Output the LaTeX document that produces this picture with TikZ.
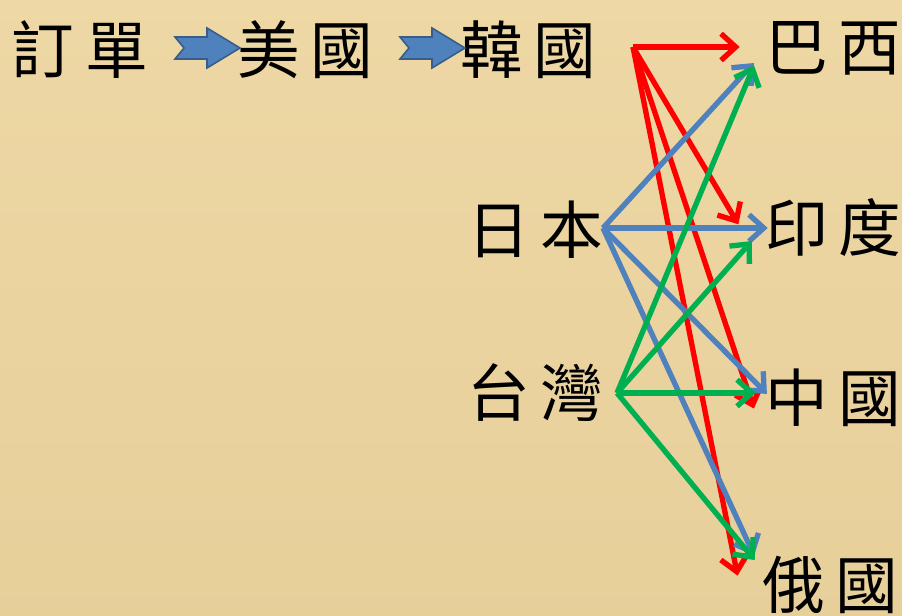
\documentclass[tikz,border=0pt]{standalone}
\usepackage{fontspec}
\newfontfamily\cjk{Noto Sans CJK TC}
\usetikzlibrary{arrows.meta}
\definecolor{papyrus}{RGB}{238,216,165}
\definecolor{papyrusdark}{RGB}{226,200,145}
\definecolor{rd}{RGB}{255,0,0}
\definecolor{bl}{RGB}{79,129,189}
\definecolor{gr}{RGB}{0,176,80}
\definecolor{blockfill}{RGB}{79,129,189}
\definecolor{blockline}{RGB}{56,93,138}
\newcommand{\tch}[2]{#1\hspace{8pt}#2}
\tikzset{
  word/.style={font=\cjk\fontsize{47}{50}\selectfont, text=black, inner sep=0pt},
  link/.style={line width=4pt, -{Straight Barb[length=11pt,width=20pt,line width=4pt]}, shorten >=-2pt},
  redlink/.style={link, draw=rd},
  bluelink/.style={link, draw=bl},
  greenlink/.style={link, draw=gr},
  blockarrow/.style={fill=blockfill, draw=blockline, line width=1.2pt, line join=miter}
}
\begin{document}
\begin{tikzpicture}[x=0.75pt,y=-0.75pt]
\useasboundingbox (0,0) rectangle (902,616);
\fill[papyrus] (0,0) rectangle (902,616);
\shade[top color=papyrus, bottom color=papyrusdark, opacity=0.5] (0,0) rectangle (902,616);

% texts
\node[word] (order) at (80,50) {\tch{訂}{單}};
\node[word] (usa) at (305,50) {\tch{美}{國}};
\node[word] (kor) at (528,50) {\tch{韓}{國}};
\node[word] (bra) at (833,48) {\tch{巴}{西}};
\node[word] (jpn) at (535,230) {\tch{日}{本}};
\node[word] (ind) at (833,228) {\tch{印}{度}};
\node[word] (twn) at (535,393) {\tch{台}{灣}};
\node[word] (chn) at (833,398) {\tch{中}{國}};
\node[word] (rus) at (830,585) {\tch{俄}{國}};

% block arrows
\draw[blockarrow] (175,37) -- (207,37) -- (207,28) -- (240,48) -- (207,68) -- (207,59) -- (175,59) -- (184,48) -- cycle;
\draw[blockarrow] (400,37) -- (432,37) -- (432,28) -- (465,48) -- (432,68) -- (432,59) -- (400,59) -- (409,48) -- cycle;

% sources
\coordinate (ks) at (633,47);
\coordinate (js) at (603,228);
\coordinate (ts) at (617,393);

% targets
\coordinate (kb) at (737,47);
\coordinate (ki) at (737,222);
\coordinate (kc) at (753,406);
\coordinate (kr) at (737,573);

\coordinate (jb) at (752,65);
\coordinate (ji) at (765,228);
\coordinate (jc) at (765,392);
\coordinate (jr) at (753,553);

\coordinate (tb) at (753,68);
\coordinate (ti) at (750,243);
\coordinate (tc) at (753,393);
\coordinate (tr) at (753,558);

\draw[redlink] (ks) -- (kb);
\draw[redlink] (ks) -- (ki);
\draw[redlink] (ks) -- (kc);
\draw[redlink] (ks) -- (kr);

\draw[bluelink] (js) -- (jb);
\draw[bluelink] (js) -- (ji);
\draw[bluelink] (js) -- (jc);
\draw[bluelink] (js) -- (jr);

\draw[greenlink] (ts) -- (tb);
\draw[greenlink] (ts) -- (ti);
\draw[greenlink] (ts) -- (tc);
\draw[greenlink] (ts) -- (tr);
\end{tikzpicture}
\end{document}
